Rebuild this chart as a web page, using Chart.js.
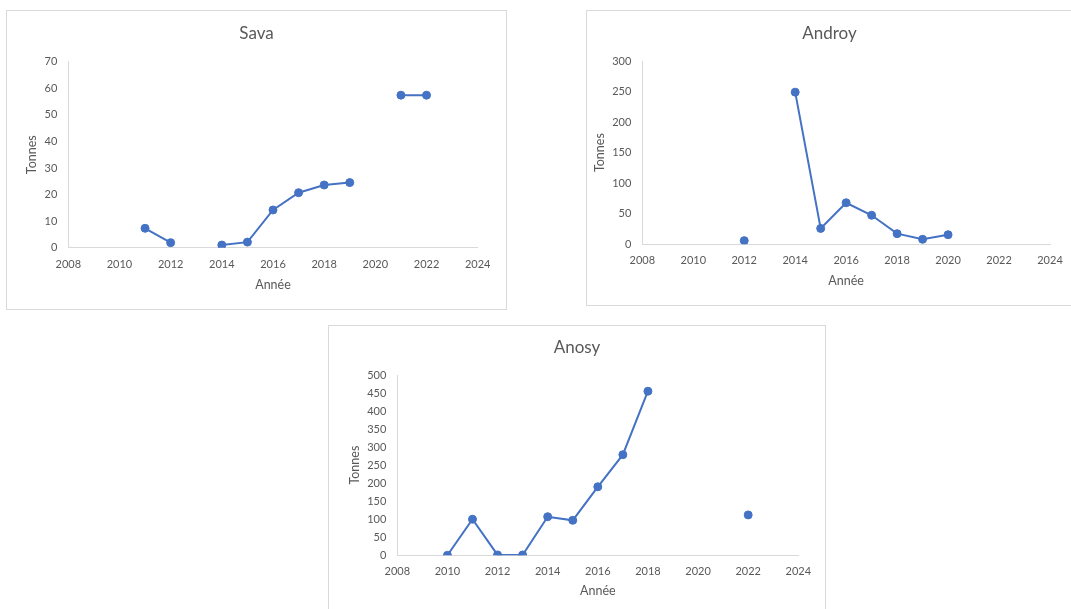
<!DOCTYPE html>
<html lang="fr">
<head>
<meta charset="utf-8">
<title>Production par région</title>
<script src="https://cdn.jsdelivr.net/npm/chart.js@4/dist/chart.umd.min.js"></script>
<style>
  html, body { margin: 0; padding: 0; background: #ffffff; }
  body { width: 1071px; height: 609px; position: relative; overflow: hidden; }
  .panel { position: absolute; box-sizing: border-box; border: 1px solid #d9d9d9; background: #fff; }
  .panel canvas { display: block; }
</style>
</head>
<body>
<div class="panel" id="p-sava" style="left:6px; top:10px; width:501px; height:300px;"><canvas id="c-sava"></canvas></div>
<div class="panel" id="p-androy" style="left:586px; top:10px; width:487px; height:296px;"><canvas id="c-androy"></canvas></div>
<div class="panel" id="p-anosy" style="left:328px; top:325px; width:498px; height:288px;"><canvas id="c-anosy"></canvas></div>

<script>
// Années de la série
const annees = [2010, 2011, 2012, 2013, 2014, 2015, 2016, 2017, 2018, 2019, 2020, 2021, 2022];

// Tonnes par région (null = pas de donnée)
const sava   = [null, 7.3, 1.9, null, 1.0, 2.1, 14.2, 20.7, 23.6, 24.5, null, 57.4, 57.4];
const androy = [null, null, 6, null, 249, 26, 68, 47.5, 17.4, 8.2, 15.7, null, null];
const anosy  = [0, 100, 1, 1, 107, 97, 190, 279, 455, null, null, null, 112];

// Graduations
const xTicks = [2008, 2010, 2012, 2014, 2016, 2018, 2020, 2022, 2024];
const yTicksSava   = [0, 10, 20, 30, 40, 50, 60, 70];
const yTicksAndroy = [0, 50, 100, 150, 200, 250, 300];
const yTicksAnosy  = [0, 50, 100, 150, 200, 250, 300, 350, 400, 450, 500];

const FONT = 'Lato, "Open Sans", sans-serif';
const TEXT = '#595959';
const AXIS = '#d9d9d9';
const BLUE = '#4472C4';

// Centre the chart title over the whole canvas, not only the padded area
const fullWidthTitle = {
  id: 'fullWidthTitle',
  afterLayout(chart) {
    const t = chart.titleBlock;
    if (t) { t.left = 0; t.right = chart.width; t.width = chart.width; }
  }
};

function drawPanel(id, panelId, titre, valeurs, yTicks, g) {
  const panel = document.getElementById(panelId);
  const w = panel.clientWidth, h = panel.clientHeight;
  const canvas = document.getElementById(id);
  canvas.style.width = w + 'px';
  canvas.style.height = h + 'px';
  canvas.width = w; canvas.height = h;

  const titleSize = 17, titleLH = titleSize * 1.2;
  const titlePadTop = g.titleMid - titleLH / 2;
  const titlePadBottom = g.plotTop - titlePadTop - titleLH;
  const tickSize = 11, tickLH = tickSize * 1.2;
  const axTitleSize = 12.5, axTitleLH = axTitleSize * 1.2;

  new Chart(canvas, {
    type: 'line',
    plugins: [fullWidthTitle],
    data: {
      datasets: [{
        label: titre,
        data: annees.map((a, i) => ({ x: a, y: valeurs[i] })),
        borderColor: BLUE,
        backgroundColor: BLUE,
        borderWidth: 2,
        pointRadius: 4,
        pointBorderWidth: 1,
        pointBackgroundColor: BLUE,
        pointBorderColor: BLUE,
        spanGaps: false,
        tension: 0
      }]
    },
    options: {
      responsive: false,
      animation: false,
      devicePixelRatio: 1,
      layout: { padding: { left: 0, right: g.padRight, top: 0, bottom: 0 } },
      plugins: {
        legend: { display: false },
        tooltip: { enabled: false },
        title: {
          display: true,
          text: titre,
          color: TEXT,
          font: { family: FONT, size: titleSize, weight: 'normal', lineHeight: 1.2 },
          padding: { top: titlePadTop, bottom: titlePadBottom }
        }
      },
      scales: {
        x: {
          type: 'linear',
          min: xTicks[0],
          max: xTicks[xTicks.length - 1],
          afterBuildTicks: s => { s.ticks = xTicks.map(v => ({ value: v })); },
          afterFit: s => { s.height = g.xHeight; },
          grid: { display: false, drawTicks: false },
          border: { display: true, color: AXIS, width: 1 },
          ticks: {
            color: TEXT,
            font: { family: FONT, size: tickSize, lineHeight: 1.2 },
            padding: g.xLabelMid - tickLH / 2,
            maxRotation: 0,
            autoSkip: false,
            callback: v => String(v)
          },
          title: {
            display: true,
            text: 'Année',
            color: TEXT,
            font: { family: FONT, size: axTitleSize, lineHeight: 1.2 },
            padding: { top: 0, bottom: g.xTitleFromBottom - axTitleLH / 2 }
          }
        },
        y: {
          type: 'linear',
          min: yTicks[0],
          max: yTicks[yTicks.length - 1],
          afterBuildTicks: s => { s.ticks = yTicks.map(v => ({ value: v })); },
          afterFit: s => { s.width = g.yWidth; },
          grid: { display: false, drawTicks: false },
          border: { display: true, color: AXIS, width: 1 },
          ticks: {
            color: TEXT,
            font: { family: FONT, size: tickSize, lineHeight: 1.2 },
            padding: 11,
            autoSkip: false,
            callback: v => String(v)
          },
          title: {
            display: true,
            text: 'Tonnes',
            color: TEXT,
            font: { family: FONT, size: axTitleSize, lineHeight: 1.2 },
            padding: { top: g.yTitleMid - axTitleLH / 2, bottom: 0 }
          }
        }
      }
    }
  });
}

drawPanel('c-sava', 'p-sava', 'Sava', sava, yTicksSava, {
  yWidth: 61.3, padRight: 28.3, plotTop: 50.7, xHeight: 61.3,
  titleMid: 22.3, xLabelMid: 16.6, xTitleFromBottom: 24, yTitleMid: 25.3
});
drawPanel('c-androy', 'p-androy', 'Androy', androy, yTicksAndroy, {
  yWidth: 55.3, padRight: 22, plotTop: 50, xHeight: 60.7,
  titleMid: 22.3, xLabelMid: 15.7, xTitleFromBottom: 24.3, yTitleMid: 13
});
drawPanel('c-anosy', 'p-anosy', 'Anosy', anosy, yTicksAnosy, {
  yWidth: 68.3, padRight: 26.7, plotTop: 49, xHeight: 56.7,
  titleMid: 21.3, xLabelMid: 15.7, xTitleFromBottom: 21.3, yTitleMid: 26
});
</script>
</body>
</html>
